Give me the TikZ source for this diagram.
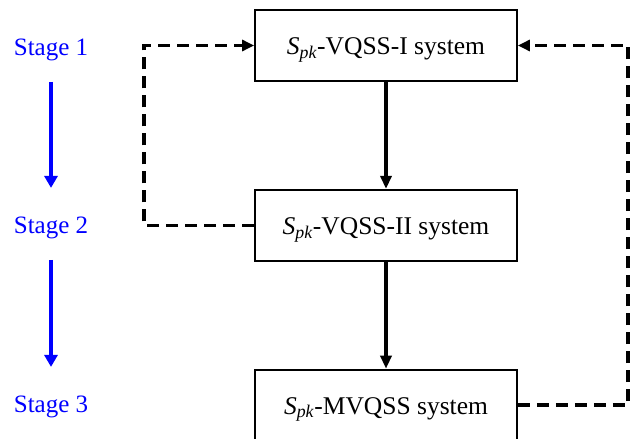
\documentclass[tikz,border=0pt]{standalone}
\usepackage{fontspec}
\setmainfont{Liberation Serif}
\usepackage{tikz}
\usetikzlibrary{arrows.meta,positioning,calc}
\usepackage{xcolor}
\definecolor{stageblue}{RGB}{0,0,255}
\newcommand{\spk}{\textit{S}\textsubscript{\textit{pk}}}

\begin{document}
\begin{tikzpicture}[x=1pt,y=-1pt,font=\fontsize{25}{30}\selectfont,
  sysbox/.style={draw,line width=1.8pt,minimum width=262pt,minimum height=71pt,
    text height=18pt,text depth=0pt,font=\fontsize{25.5}{30}\selectfont},
  stagelabel/.style={text=stageblue,anchor=base},
  flow/.style={-{Triangle[length=13pt,width=11pt]},line width=3.5pt},
  stageflow/.style={-{Triangle[length=12pt,width=13pt]},line width=4.5pt,stageblue},
  feedback/.style={-{Triangle[length=12pt,width=11pt]},line width=3.6pt,dash pattern=on 12pt off 7pt}]
  \useasboundingbox (0,0) rectangle (632,439);

  \node[sysbox] (vqss1) at (386,45.5) {\spk-VQSS-I system};
  \node[sysbox,below=107pt of vqss1] (vqss2) {\spk-VQSS-II system};
  \node[sysbox,below=107pt of vqss2] (mvqss) {\spk-MVQSS system};

  \node[stagelabel] (stage1) at (51,55) {Stage 1};
  \node[stagelabel] (stage2) at (51,233) {Stage 2};
  \node[stagelabel] (stage3) at (51,412) {Stage 3};

  \draw[stageflow,shorten <=18pt,shorten >=25pt] (stage1.south) -- (stage2.north);
  \draw[stageflow,shorten <=18pt,shorten >=25pt] (stage2.south) -- (stage3.north);

  \draw[flow] (vqss1) -- (vqss2);
  \draw[flow] (vqss2) -- (mvqss);

  \draw[feedback] (vqss2.west) -- ++(-110,0) |- (vqss1.west);
  \draw[feedback] (mvqss.east) -- ++(110,0) |- (vqss1.east);
\end{tikzpicture}
\end{document}
